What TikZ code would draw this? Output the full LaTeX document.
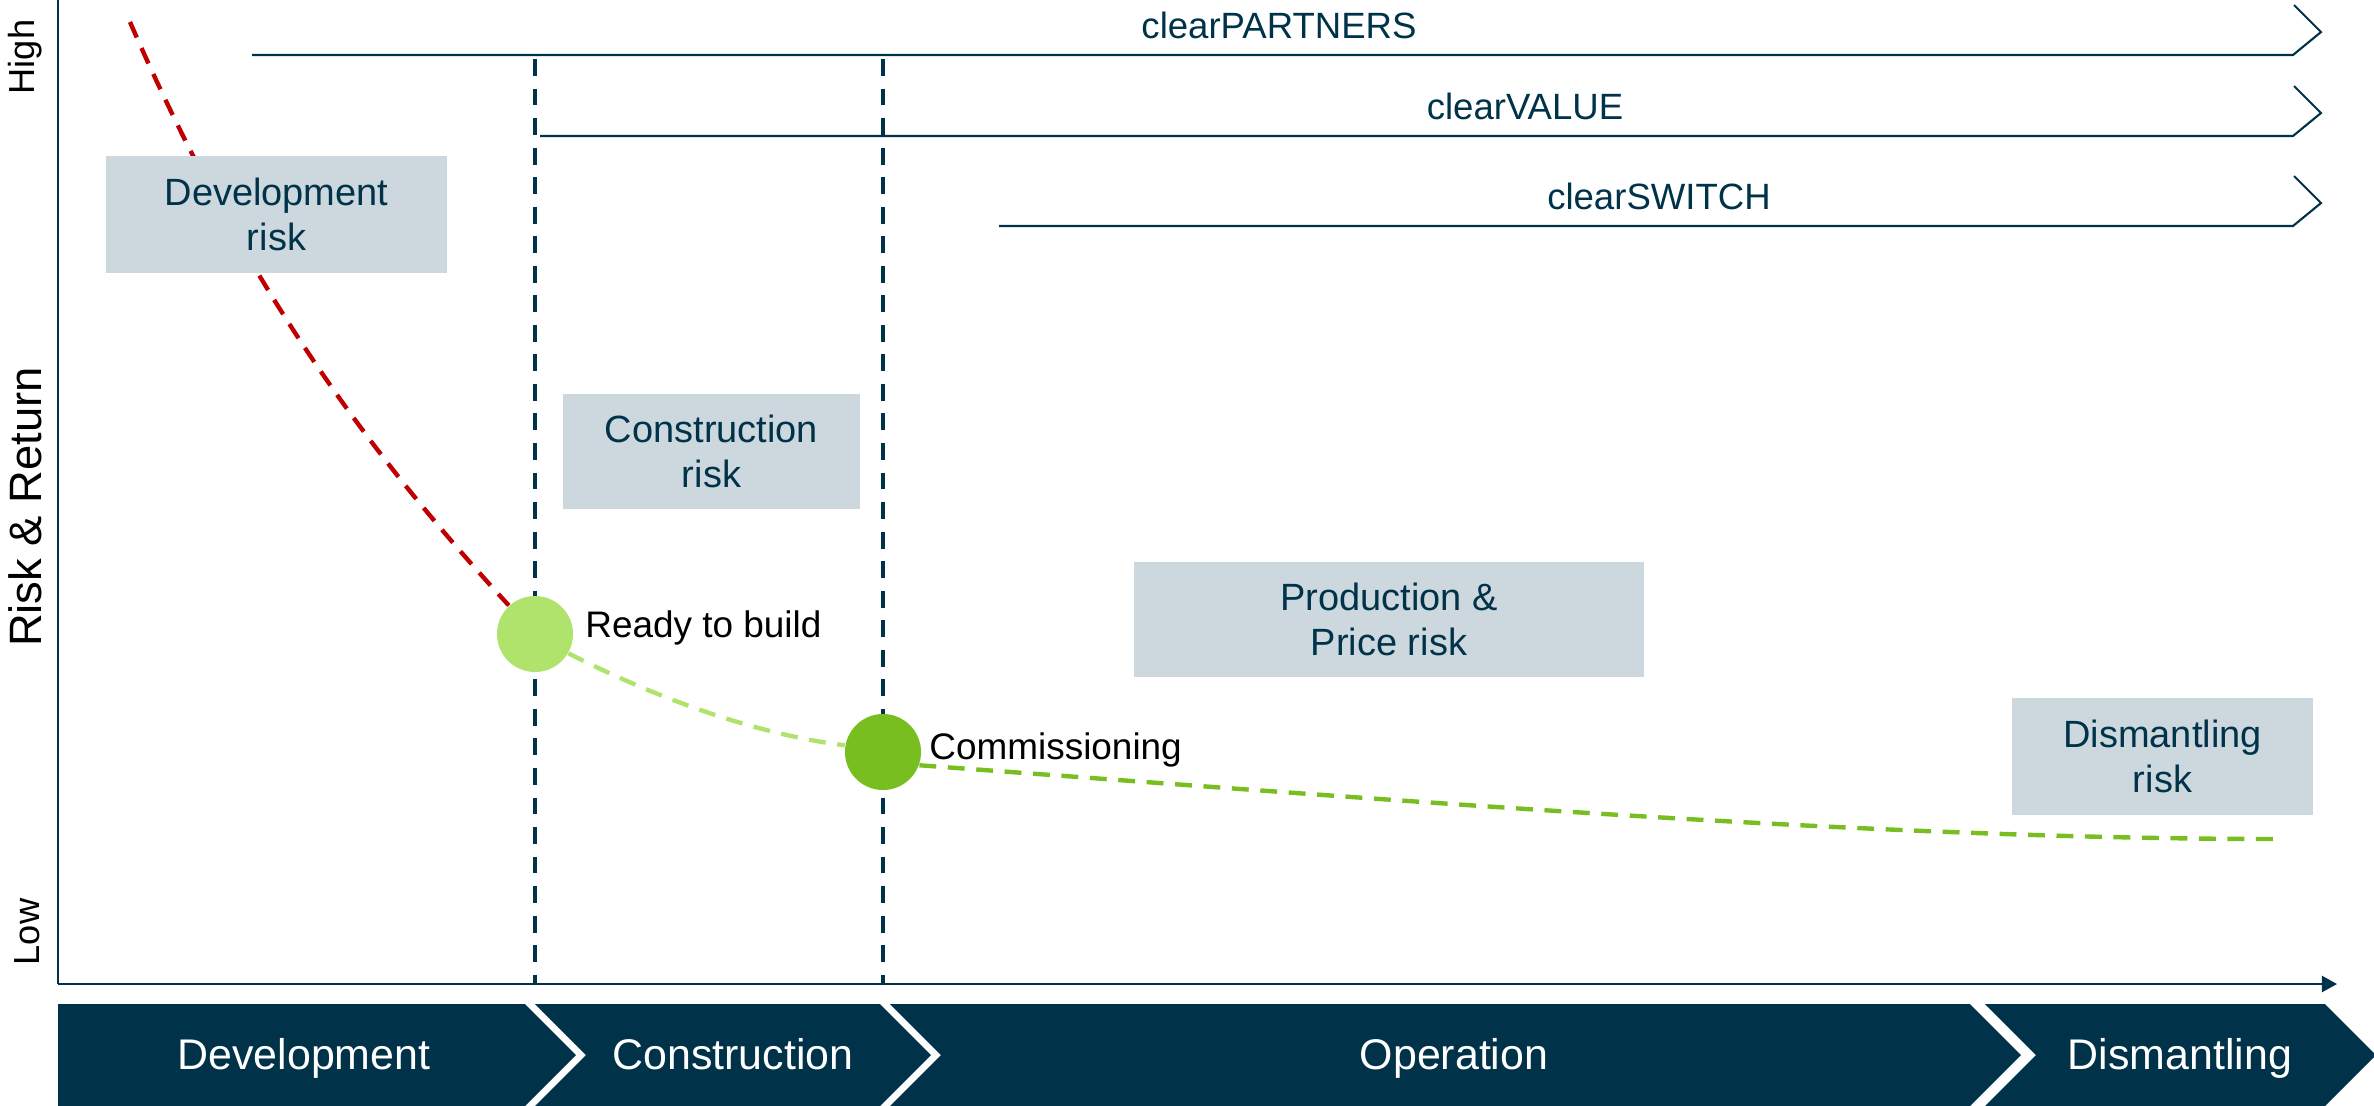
\documentclass[tikz,border=0pt]{standalone}
\usepackage{fontspec}
\setmainfont{Liberation Sans}
\usetikzlibrary{arrows.meta}
\definecolor{navy}{RGB}{0,51,73}
\definecolor{boxgray}{RGB}{204,215,222}
\definecolor{riskred}{RGB}{192,0,0}
\definecolor{lightlime}{RGB}{176,227,108}
\definecolor{lime}{RGB}{120,190,32}
\tikzset{
  riskbox/.style={fill=boxgray, text=navy, align=center, inner sep=0pt,
    font=\fontsize{10.8}{12.6}\selectfont},
  phase/.style={text=white, anchor=base, font=\fontsize{12.2}{14}\selectfont},
  track/.style={navy, line width=0.6pt},
  tracklabel/.style={text=navy, anchor=base, font=\fontsize{10.4}{12}\selectfont},
  milestone/.style={circle, minimum size=0.76cm, inner sep=0pt},
  mslabel/.style={anchor=base west, inner sep=0pt, font=\fontsize{10.5}{12}\selectfont},
  gate/.style={navy, line width=1.05pt, dash pattern=on 4.8pt off 3.6pt},
  riskcurve/.style={line width=1.25pt, dash pattern=on 4.8pt off 3.3pt},
  axislabel/.style={rotate=90, font=\fontsize{10.3}{12}\selectfont},
}
\begin{document}
\begin{tikzpicture}[x=0.01cm, y=-0.01cm]
  \useasboundingbox (0,0) rectangle (2374,1105);
  % axes
  \coordinate (O) at (58,984);
  \coordinate (Ytop) at (58,0);
  \coordinate (Xend) at (2337,984);
  \draw[navy, line width=0.6pt] (Ytop) -- (O);
  \draw[navy, line width=0.6pt, -{Triangle[length=4.3pt,width=4.6pt]}] (O) -- (Xend);
  \node[axislabel] (high) at (25,57) {High};
  \node[axislabel] (low) at (27,932) {Low};
  \node[axislabel, font=\fontsize{12.9}{15}\selectfont] (rr) at (25,507) {Risk \& Return};

  % phase gates
  \foreach \g/\x in {g1/535,g2/883}{
    \coordinate (\g-top) at (\x,59);
    \coordinate (\g-bot) at (\x,984);
    \draw[gate] (\g-top) -- (\g-bot);
  }

  % service tracks
  \foreach \name/\xs/\y/\xt in {clearPARTNERS/252/55/1279,
      clearVALUE/540/136/1525, clearSWITCH/999/226/1659}{
    \coordinate (\name-s) at (\xs,\y);
    \coordinate (\name-e) at (2293,\y);
    \draw[track] (\name-s) -- (\name-e) -- ++(28,-23) -- ++(-27,-27);
    \node[tracklabel] (\name-lab) at (\xt,\y-17) {\name};
  }

  % milestones
  \node[milestone, fill=lightlime] (rtb) at (535,634) {};
  \node[milestone, fill=lime] (com) at (883,752) {};
  \node[mslabel] (rtb-lab) at ([xshift=0.11cm, yshift=-0.03cm]rtb.east) {Ready to build};
  \node[mslabel] (com-lab) at ([xshift=0.07cm, yshift=-0.07cm]com.east) {Commissioning};

  % risk curve
  \coordinate (rstart) at (130,22);
  \coordinate (gend) at (2277,839);
  \draw[riskcurve, riskred] (rstart) .. controls (250,298) and (380,465) .. (rtb);
  \draw[riskcurve, lightlime] (rtb.-30) .. controls (660,700) and (760,735) .. (com.170);
  \draw[riskcurve, lime] (com.-20) .. controls (1418,802) and (1877,839) .. (gend);

  % risk boxes
  \node[riskbox, minimum width=3.41cm, minimum height=1.17cm] (devrisk) at (276.5,214.5) {Development\\risk};
  \node[riskbox, minimum width=2.97cm, minimum height=1.15cm] (conrisk) at (711.5,451.5) {Construction\\risk};
  \node[riskbox, minimum width=5.10cm, minimum height=1.15cm] (prorisk) at (1389,619.5) {Production \&\\Price risk};
  \node[riskbox, minimum width=3.01cm, minimum height=1.17cm] (disrisk) at (2162.5,756.5) {Dismantling\\risk};

  % phase band
  \foreach \xa/\xb/\nd/\lab/\xt in {58/525/0/Development/304,
      535/880/51/Construction/733, 890/1970/51/Operation/1454,
      1985/2325/51/Dismantling/2180}{
    \fill[navy] (\xa,1004) -- (\xb,1004) -- (\xb+51,1055) -- (\xb,1106)
      -- (\xa,1106) -- (\xa+\nd,1055) -- cycle;
    \node[phase] (ph-\lab) at (\xt,1069) {\lab};
  }
\end{tikzpicture}
\end{document}
